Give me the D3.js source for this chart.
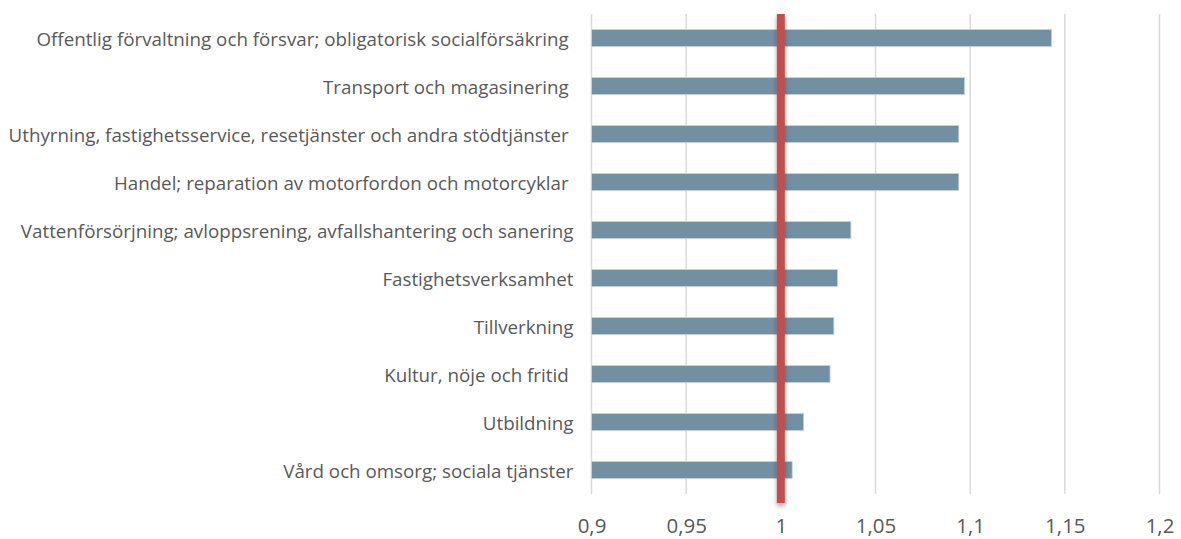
<!DOCTYPE html>
<html>
<head>
<meta charset="utf-8">
<script src="https://cdn.jsdelivr.net/npm/d3@7"></script>
<style>
  html, body { margin: 0; padding: 0; background: #ffffff; }
  svg { display: block; }
  text { font-family: "Open Sans", sans-serif; fill: #595959; white-space: pre; }
</style>
</head>
<body>
<svg id="chart" width="1181" height="539"></svg>
<script>
const categories = [
  "Offentlig förvaltning och försvar; obligatorisk socialförsäkring ",
  "Transport och magasinering ",
  "Uthyrning, fastighetsservice, resetjänster och andra stödtjänster ",
  "Handel; reparation av motorfordon och motorcyklar ",
  "Vattenförsörjning; avloppsrening, avfallshantering och sanering",
  "Fastighetsverksamhet",
  "Tillverkning",
  "Kultur, nöje och fritid ",
  "Utbildning",
  "Vård och omsorg; sociala tjänster"
];
const values = [1.143, 1.097, 1.094, 1.094, 1.037, 1.030, 1.028, 1.026, 1.012, 1.006];
const tickValues = [0.9, 0.95, 1, 1.05, 1.1, 1.15, 1.2];
const tickLabels = ["0,9", "0,95", "1", "1,05", "1,1", "1,15", "1,2"];
const referenceValue = [1];

const svg = d3.select("#chart");
const x = d3.scaleLinear().domain([0.9, 1.2]).range([591.5, 1159.5]);
const y = d3.scaleBand().domain(categories).range([14, 494]).paddingInner(0.645).paddingOuter(0.3225);

const defs = svg.append("defs");
const f = defs.append("filter").attr("id", "shadow").attr("x", "-200%").attr("y", "-5%").attr("width", "500%").attr("height", "110%");
f.append("feDropShadow").attr("dx", 0).attr("dy", 3).attr("stdDeviation", 2.5).attr("flood-color", "#000").attr("flood-opacity", 0.35);

// gridlines
svg.append("g").selectAll("line").data(tickValues).join("line")
  .attr("x1", d => x(d)).attr("x2", d => x(d))
  .attr("y1", 14).attr("y2", 494)
  .attr("stroke", "#d9d9d9").attr("stroke-width", 1.5);

// bars
svg.append("g").selectAll("rect").data(categories).join("rect")
  .attr("x", x(0.9))
  .attr("y", d => y(d))
  .attr("width", (d, i) => x(values[i]) - x(0.9))
  .attr("height", y.bandwidth())
  .attr("fill", "#7190a3")
  .attr("stroke", "#c7d3db").attr("stroke-width", 0.8);

// category labels
svg.append("g").selectAll("text").data(categories).join("text")
  .attr("x", 573.5)
  .attr("y", d => y(d) + y.bandwidth() / 2)
  .attr("text-anchor", "end")
  .attr("dominant-baseline", "central")
  .attr("font-size", "18.75px")
  .text(d => d);

// x axis tick labels
const xAxis = d3.axisBottom(x).tickValues(tickValues).tickFormat((d, i) => tickLabels[i]).tickSize(0).tickPadding(0);
const ax = svg.append("g").attr("transform", "translate(0,525)").call(xAxis);
ax.select(".domain").remove();
ax.selectAll("text").attr("font-size", "20.5px").attr("font-family", "Open Sans, sans-serif")
  .attr("fill", "#595959").attr("dy", null).attr("dominant-baseline", "central");

// reference line at 1
svg.append("g").selectAll("rect").data(referenceValue).join("rect")
  .attr("x", d => x(d) - 4)
  .attr("y", 14)
  .attr("width", 8)
  .attr("height", 489)
  .attr("fill", "#c0504d")
  .attr("filter", "url(#shadow)");
</script>
</body>
</html>
